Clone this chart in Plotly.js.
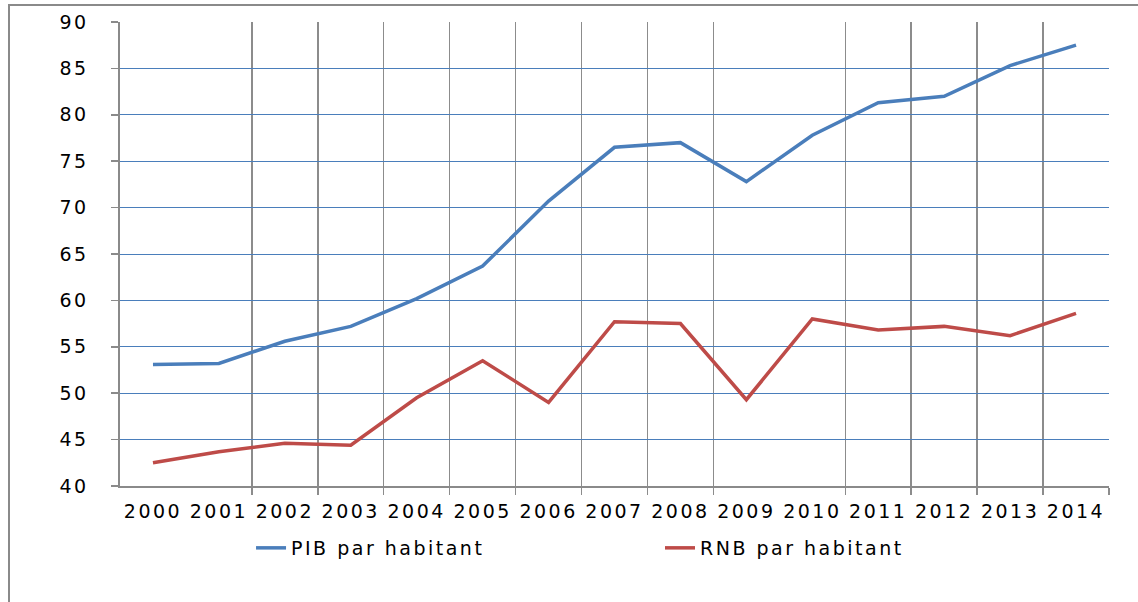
<!DOCTYPE html>
<html>
<head>
<meta charset="utf-8">
<script src="https://cdn.plot.ly/plotly-3.0.1.min.js"></script>
<style>
  html, body { margin: 0; padding: 0; background: #ffffff; }
  #wrap { position: relative; width: 1138px; height: 602px; overflow: hidden; }
  #chart { position: absolute; left: 0; top: 0; width: 1138px; height: 602px; }
  #frame { position: absolute; left: 8px; top: 4px; width: 1200px; height: 700px;
           border-left: 2px solid #8a8a8a; border-top: 2px solid #8a8a8a; pointer-events: none; }
  #chart text { letter-spacing: 2.5px; }
</style>
</head>
<body>
<div id="wrap">
  <div id="chart"></div>
  <div id="frame"></div>
</div>
<script>
// Data
const years = ['2000','2001','2002','2003','2004','2005','2006','2007','2008','2009','2010','2011','2012','2013','2014'];
const pibParHabitant = [53.1, 53.2, 55.6, 57.2, 60.2, 63.7, 70.7, 76.5, 77.0, 72.8, 77.8, 81.3, 82.0, 85.3, 87.5];
const rnbParHabitant = [42.5, 43.7, 44.6, 44.4, 49.5, 53.5, 49.0, 57.7, 57.5, 49.3, 58.0, 56.8, 57.2, 56.2, 58.6];
const seriesNames = ['PIB par habitant', 'RNB par habitant'];

const xIdx = years.map((_, i) => i);
// category boundaries that carry a vertical gridline in the reference
const boundaries = xIdx.map(i => i + 0.5).filter(b => b !== 0.5 && b !== 9.5);

const FONT = 'DejaVu Sans, Verdana, sans-serif';

const traces = [
  { x: xIdx, y: pibParHabitant, name: seriesNames[0], type: 'scatter', mode: 'lines',
    line: { color: '#4A7EBB', width: 3.5 }, legend: 'legend' },
  { x: xIdx, y: rnbParHabitant, name: seriesNames[1], type: 'scatter', mode: 'lines',
    line: { color: '#BE4B48', width: 3.5 }, legend: 'legend2' }
];

const layout = {
  width: 1138, height: 602,
  margin: { l: 120, r: 29, t: 22, b: 116 },
  paper_bgcolor: 'rgba(0,0,0,0)',
  plot_bgcolor: 'rgba(0,0,0,0)',
  font: { family: FONT, size: 19, color: '#000000' },
  showlegend: true,
  xaxis: {
    range: [-0.5, 14.5],
    tickmode: 'array', tickvals: xIdx, ticktext: years,
    ticks: '', showgrid: false, zeroline: false,
    showline: true, linecolor: '#8a8a8a', linewidth: 1.5,
    ticklabelstandoff: 8,
    tickfont: { family: FONT, size: 19, color: '#000000' },
    minor: { tickmode: 'array', tickvals: boundaries, ticks: 'outside', ticklen: 7,
             tickcolor: '#8c8c8c', tickwidth: 1.5, showgrid: true,
             gridcolor: '#8c8c8c', gridwidth: 1.5 },
    fixedrange: true
  },
  yaxis: {
    range: [40, 90], tickmode: 'linear', tick0: 40, dtick: 5,
    ticks: 'outside', ticklen: 7, tickcolor: '#8a8a8a', tickwidth: 1.5,
    showgrid: true, gridcolor: '#4A7EBB', gridwidth: 1,
    zeroline: false, showline: true, linecolor: '#8a8a8a', linewidth: 2.5,
    ticklabelstandoff: 18,
    tickfont: { family: FONT, size: 19, color: '#000000' },
    fixedrange: true
  },
  legend: {
    x: 0.1325, xanchor: 'left', y: -0.1336, yanchor: 'middle',
    orientation: 'h', bgcolor: 'rgba(0,0,0,0)', borderwidth: 0, entrywidth: 300,
    font: { family: FONT, size: 19, color: '#000000' }
  },
  legend2: {
    x: 0.546, xanchor: 'left', y: -0.1336, yanchor: 'middle',
    orientation: 'h', bgcolor: 'rgba(0,0,0,0)', borderwidth: 0, entrywidth: 300,
    font: { family: FONT, size: 19, color: '#000000' }
  }
};

Plotly.newPlot('chart', traces, layout, { displayModeBar: false, staticPlot: true });
</script>
</body>
</html>
